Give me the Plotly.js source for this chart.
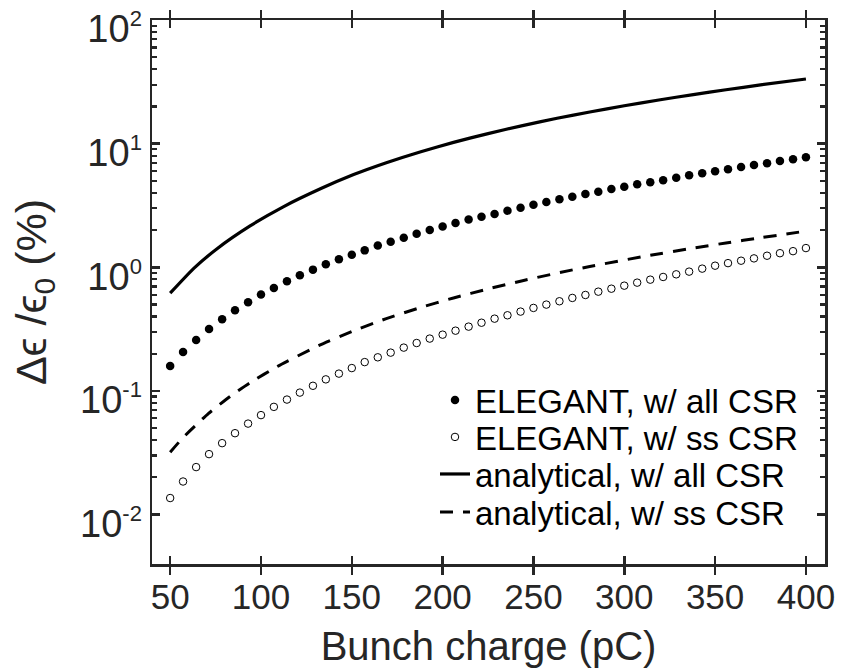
<!DOCTYPE html>
<html>
<head>
<meta charset="utf-8">
<script src="https://cdn.plot.ly/plotly-3.0.1.min.js"></script>
<style>html,body{margin:0;padding:0;background:#fff;}#plot{width:841px;height:672px;}</style>
</head>
<body>
<div id="plot"></div>
<script>
// ELEGANT simulation charges (pC)
const chargeSim = [50, 57.1, 64.3, 71.4, 78.6, 85.7, 92.9, 100, 107.1, 114.3,
  121.4, 128.6, 135.7, 142.9, 150, 157.1, 164.3, 171.4, 178.6, 185.7,
  192.9, 200, 207.1, 214.3, 221.4, 228.6, 235.7, 242.9, 250, 257.1,
  264.3, 271.4, 278.6, 285.7, 292.9, 300, 307.1, 314.3, 321.4, 328.6,
  335.7, 342.9, 350, 357.1, 364.3, 371.4, 378.6, 385.7, 392.9, 400];
// ELEGANT, w/ all CSR (%)
const elegantAll = [0.159, 0.206, 0.258, 0.317, 0.380, 0.449, 0.521, 0.601, 0.680, 0.770,
  0.861, 0.957, 1.06, 1.16, 1.26, 1.37, 1.50, 1.61, 1.73, 1.87,
  2.00, 2.14, 2.28, 2.43, 2.56, 2.70, 2.87, 3.03, 3.21, 3.37,
  3.55, 3.72, 3.91, 4.08, 4.30, 4.48, 4.69, 4.87, 5.05, 5.30,
  5.54, 5.75, 5.97, 6.20, 6.47, 6.71, 6.93, 7.23, 7.47, 7.75];
// ELEGANT, w/ ss CSR (%)
const elegantSS = [0.0136, 0.0185, 0.0242, 0.0308, 0.0378, 0.0455, 0.0544, 0.0637, 0.0743, 0.0851,
  0.0969, 0.110, 0.124, 0.138, 0.153, 0.171, 0.187, 0.204, 0.224, 0.244,
  0.265, 0.285, 0.307, 0.331, 0.356, 0.384, 0.409, 0.438, 0.469, 0.499,
  0.531, 0.565, 0.597, 0.635, 0.671, 0.710, 0.751, 0.794, 0.835, 0.877,
  0.922, 0.975, 1.03, 1.08, 1.13, 1.18, 1.24, 1.30, 1.35, 1.43];
// analytical, w/ all CSR
const chargeAnaAll = [50, 63, 76, 94, 112, 133, 151, 169, 188, 206, 225, 244, 263, 281, 300, 319, 338, 356, 375, 400];
const anaAll = [0.617, 0.979, 1.42, 2.16, 3.07, 4.33, 5.62, 7.01, 8.61, 10.24, 12.06, 13.99, 16.03, 18.04, 20.26, 22.55, 24.94, 27.28, 29.84, 33.33];
// analytical, w/ ss CSR
const chargeAnaSS = [50, 57, 71, 83, 94, 109, 132, 151, 169, 188, 206, 225, 244, 263, 281, 312, 338, 356, 375, 400];
const anaSS = [0.0319, 0.0418, 0.0655, 0.0902, 0.1164, 0.1576, 0.2335, 0.3067, 0.3842, 0.4735, 0.5648, 0.6683, 0.779, 0.897, 1.015, 1.233, 1.43, 1.573, 1.733, 1.96];

const xTicks = [50, 100, 150, 200, 250, 300, 350, 400];
const yTicks = [0.01, 0.1, 1, 10, 100];
const yExp = ['-2', '-1', '0', '1', '2'];
const yTickText = yExp.map(e => '10<sup><span style="font-size:22px">' + e + '</span></sup>');
const yMinor = [];
[0.01, 0.1, 1, 10].forEach(d => { for (let k = 2; k <= 9; k++) yMinor.push(+(d * k).toPrecision(3)); });

const axCol = '#262626';
const fam = 'Liberation Sans, Arial, Helvetica, sans-serif';

const traces = [
  {x: chargeSim, y: elegantAll, name: 'ELEGANT, w/ all CSR', mode: 'markers', type: 'scatter', legend: 'legend',
   marker: {symbol: 'circle', size: 8.5, color: '#000'}},
  {x: chargeSim, y: elegantSS, name: 'ELEGANT, w/ ss CSR', mode: 'markers', type: 'scatter', legend: 'legend2',
   marker: {symbol: 'circle-open', size: 7.5, color: '#000', line: {width: 1, color: '#000'}}},
  {x: chargeAnaAll, y: anaAll, name: 'analytical, w/ all CSR', mode: 'lines', type: 'scatter', legend: 'legend3',
   line: {color: '#000', width: 3.2, shape: 'spline', smoothing: 0.5}},
  {x: chargeAnaSS, y: anaSS, name: 'analytical, w/ ss CSR', mode: 'lines', type: 'scatter', legend: 'legend4',
   line: {color: '#000', width: 3, dash: '13px,10px', shape: 'spline', smoothing: 0.5}},
  {x: [], y: [], yaxis: 'y2', showlegend: false, type: 'scatter', mode: 'markers', hoverinfo: 'skip'}
];

function leg(yc) {
  return {
    x: 0.4205, xanchor: 'left', y: yc, yanchor: 'middle',
    bgcolor: 'rgba(0,0,0,0)', borderwidth: 0,
    font: {family: fam, size: 33, color: '#000'},
    itemwidth: 30
  };
}

const layout = {
  width: 841, height: 672,
  margin: {l: 152, r: 16, t: 20, b: 108},
  paper_bgcolor: '#fff', plot_bgcolor: '#fff',
  font: {family: fam, color: axCol},
  showlegend: true,
  legend: leg(0.3015),
  legend2: leg(0.2335),
  legend3: leg(0.1654),
  legend4: leg(0.0956),
  xaxis: {
    range: [40, 410.5], tickmode: 'array', tickvals: xTicks,
    ticks: 'inside', ticklen: 8, tickwidth: 2.5, tickcolor: axCol,
    showline: true, linewidth: 2.5, linecolor: axCol, mirror: 'allticks',
    showgrid: false, zeroline: false,
    tickfont: {family: fam, size: 35, color: axCol},
    title: {text: 'Bunch charge (pC)', font: {family: fam, size: 40, color: axCol}, standoff: 18}
  },
  yaxis: {
    type: 'log', range: [-2.4, 2], tickmode: 'array', tickvals: yTicks, ticktext: yTickText,
    ticks: 'inside', ticklen: 8, tickwidth: 2.5, tickcolor: axCol,
    showline: true, linewidth: 2.5, linecolor: axCol, mirror: 'allticks',
    showgrid: false, zeroline: false, ticklabeloverflow: 'allow', ticklabelshift: 9,
    tickfont: {family: fam, size: 38, color: axCol},
    title: {text: 'Δϵ /ϵ<sub>0</sub> (%)', font: {family: fam, size: 43, color: axCol}, standoff: 20}
  },
  yaxis2: {
    type: 'log', range: [-2.4, 2], overlaying: 'y', side: 'left', anchor: 'x',
    tickmode: 'array', tickvals: yMinor, showticklabels: false,
    ticks: 'inside', ticklen: 5, tickwidth: 2.2, tickcolor: axCol,
    showline: false, mirror: 'allticks', showgrid: false, zeroline: false
  }
};

Plotly.newPlot('plot', traces, layout, {staticPlot: true, displayModeBar: false});
</script>
</body>
</html>
